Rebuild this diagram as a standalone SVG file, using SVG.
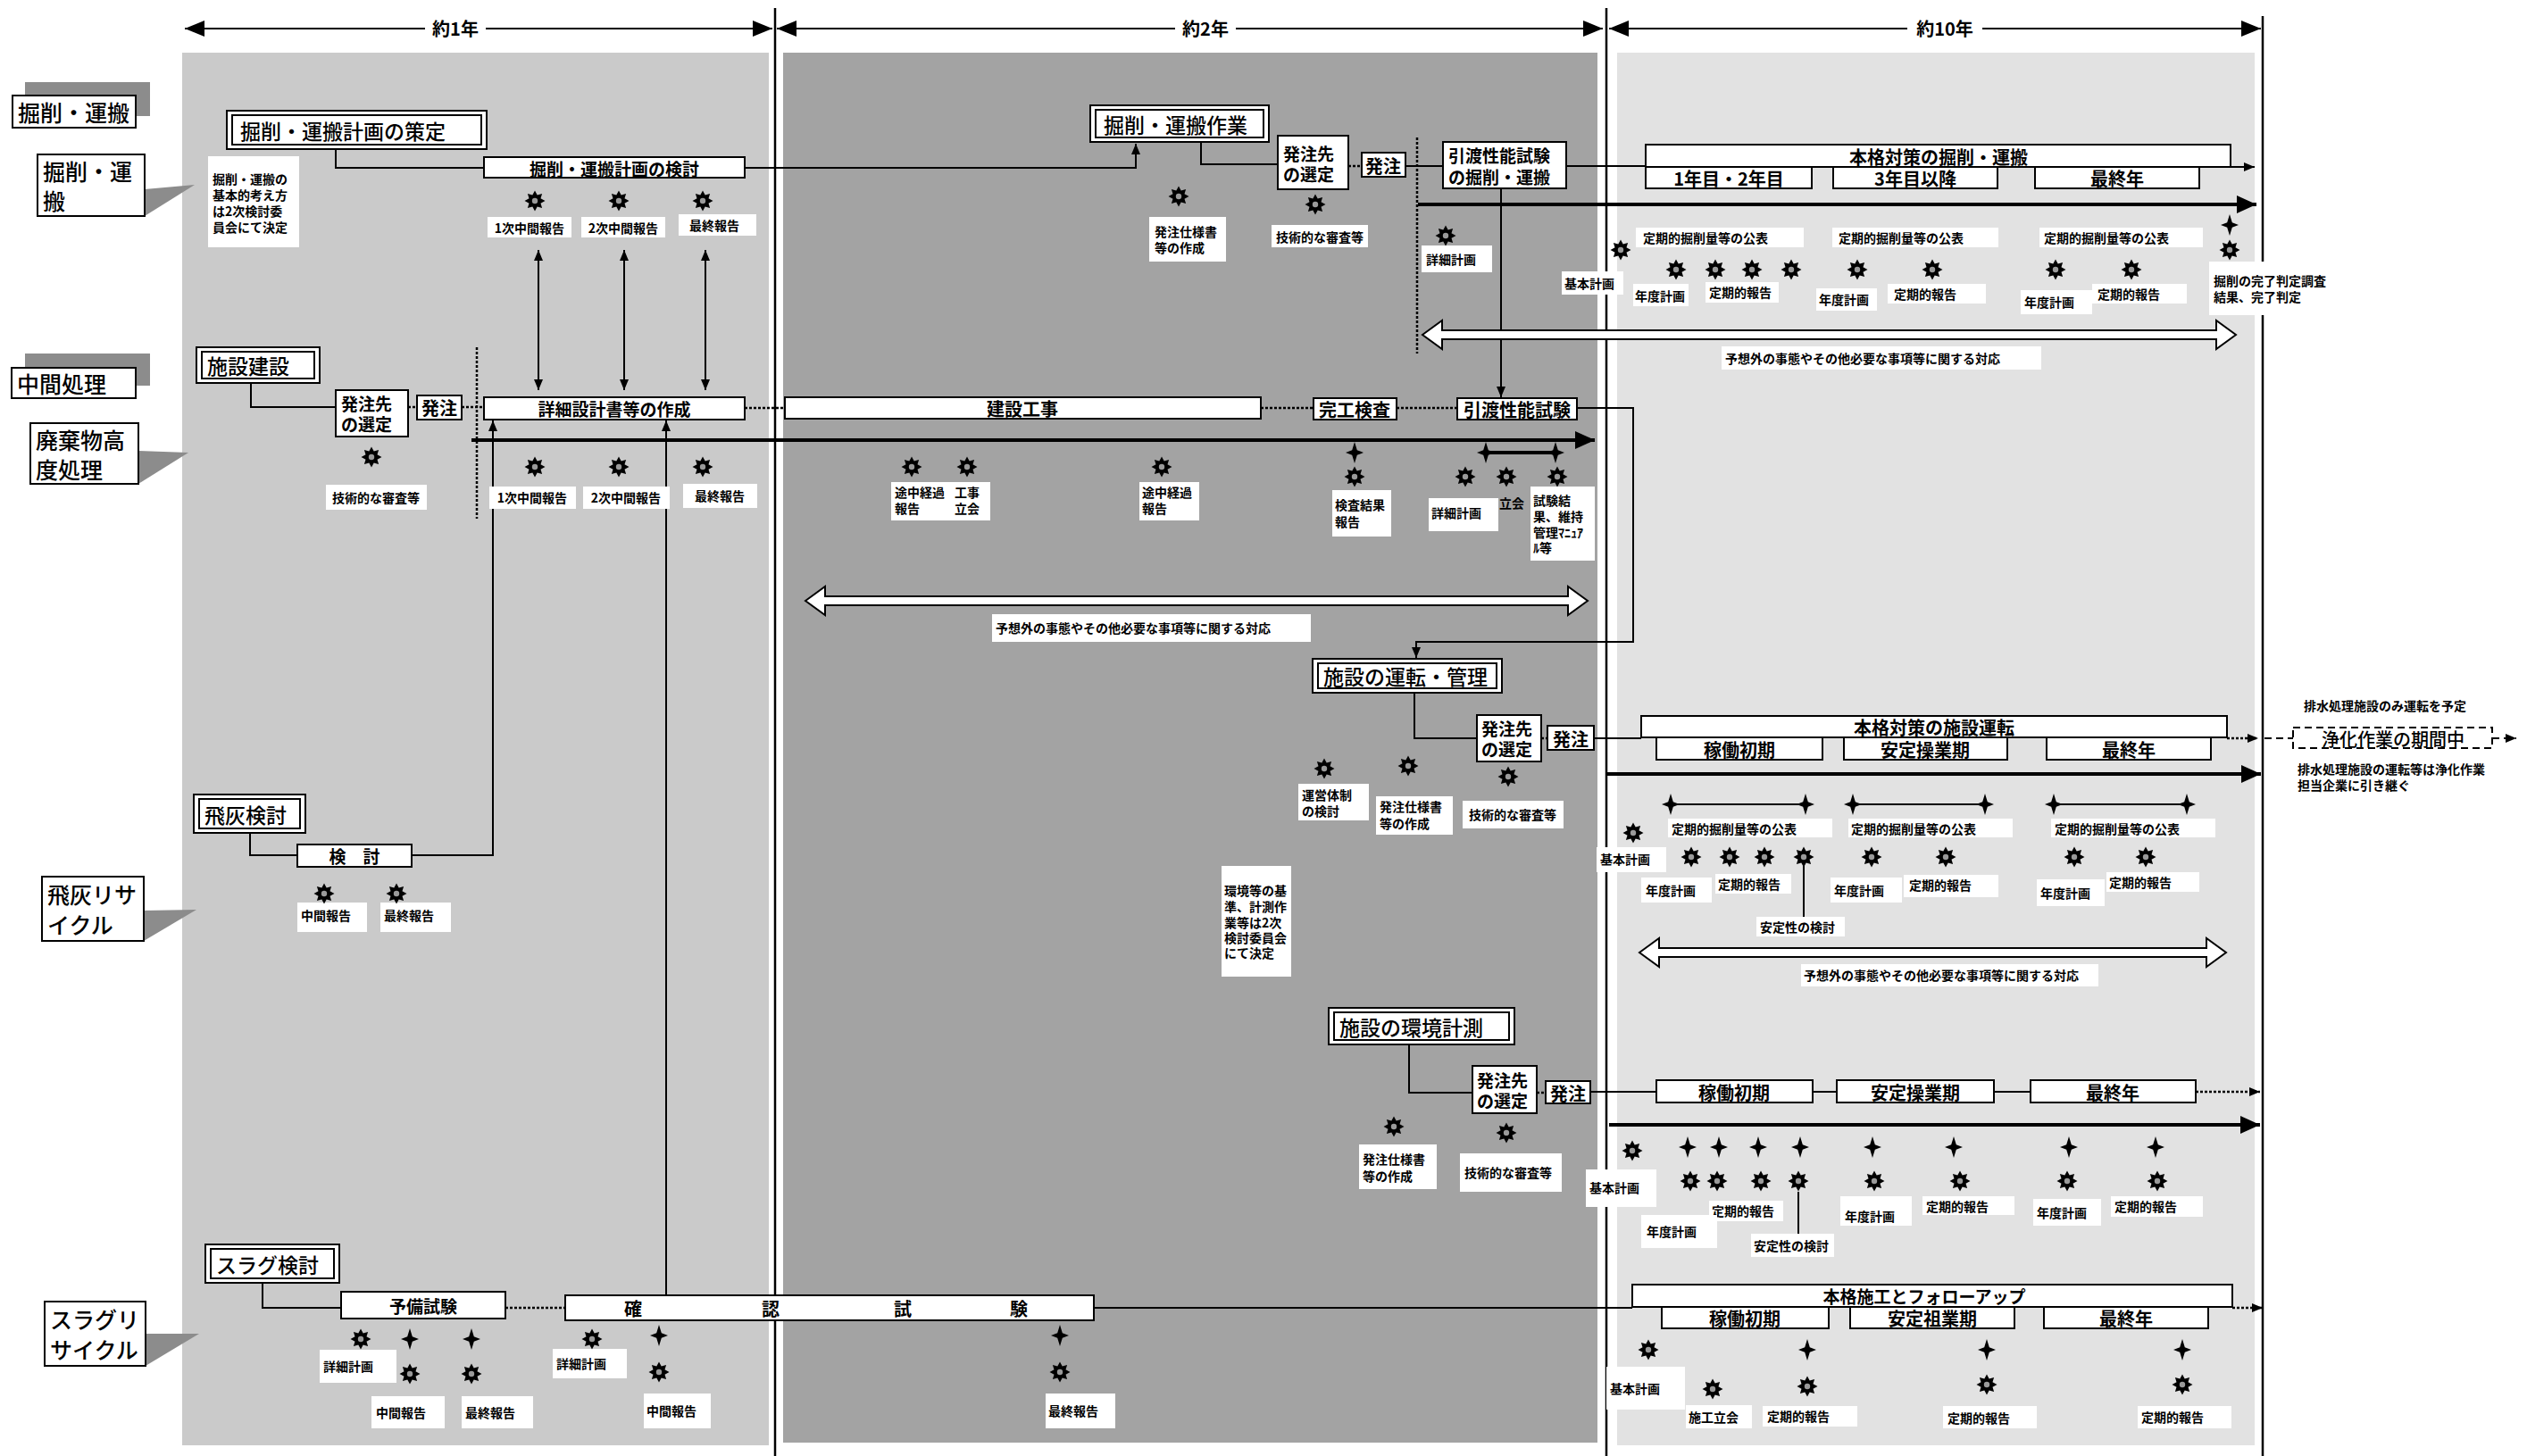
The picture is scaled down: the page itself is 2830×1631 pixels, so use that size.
<svg xmlns="http://www.w3.org/2000/svg" width="2830" height="1631" viewBox="0 0 2830 1631">
<defs>
<style>
.b{fill:#fff;stroke:#000;stroke-width:2}
.w{fill:#fff}
.l{fill:none;stroke:#000;stroke-width:2}
.d{fill:none;stroke:#000;stroke-width:2.5;stroke-dasharray:3 2}
.th{fill:none;stroke:#000;stroke-width:4}
.da{fill:none;stroke:#000;stroke-width:2;stroke-dasharray:8 5}
.ha{fill:#fff;stroke:#000;stroke-width:2}
.sh{fill:#8c8c8c}
.t{font-family:"Noto Sans CJK JP","Noto Sans CJK SC",sans-serif;font-weight:700;fill:#000;dominant-baseline:central}
.s{font-size:14px}
.m{font-size:19px}
.n{font-size:20px}
.L{font-size:23px;font-weight:500}
.X{font-size:25px;font-weight:500}
.rg{font-weight:500}
.c{text-anchor:middle}
</style>
<marker id="aL" viewBox="0 0 22 18" refX="22" refY="9" markerWidth="22" markerHeight="18" markerUnits="userSpaceOnUse" orient="auto-start-reverse"><path d="M0,0L22,9L0,18z"/></marker>
<marker id="aT" viewBox="0 0 22 20" refX="22" refY="10" markerWidth="22" markerHeight="20" markerUnits="userSpaceOnUse" orient="auto"><path d="M0,0L22,10L0,20z"/></marker>
<marker id="aS" viewBox="0 0 12 10" refX="12" refY="5" markerWidth="12" markerHeight="10" markerUnits="userSpaceOnUse" orient="auto-start-reverse"><path d="M0,0L12,5L0,10z"/></marker>
<g id="st"><polygon points="0,-11.5 2.7,-6.5 8.1,-8.1 6.5,-2.7 11.5,0 6.5,2.7 8.1,8.1 2.7,6.5 0,11.5 -2.7,6.5 -8.1,8.1 -6.5,2.7 -11.5,0 -6.5,-2.7 -8.1,-8.1 -2.7,-6.5" fill="#000"/><circle r="3.2" fill="#9a9a9a"/></g>
<path id="cr" d="M0,-12L2.8,-2.8L10,0L2.8,2.8L0,12L-2.8,2.8L-10,0L-2.8,-2.8Z" fill="#000"/>
</defs>
<rect width="2830" height="1631" fill="#fff"/>
<g id="panels">
<rect x="204" y="59" width="657" height="1560" fill="#cacaca"/>
<rect x="877" y="59" width="912" height="1557" fill="#a3a3a3"/>
<rect x="1811" y="59" width="714" height="1560" fill="#e2e2e2"/>
</g>
<g id="axis">
<line class="l" x1="207" y1="32" x2="865" y2="32" marker-start="url(#aL)" marker-end="url(#aL)"/>
<line class="l" x1="870" y1="32" x2="1795" y2="32" marker-start="url(#aL)" marker-end="url(#aL)"/>
<line class="l" x1="1802" y1="32" x2="2532" y2="32" marker-start="url(#aL)" marker-end="url(#aL)"/>
<rect class="w" x="476" y="16" width="68" height="32"/><text class="t n c" x="510" y="31">約1年</text>
<rect class="w" x="1316" y="16" width="68" height="32"/><text class="t n c" x="1350" y="31">約2年</text>
<rect class="w" x="2136" y="16" width="84" height="32"/><text class="t n c" x="2178" y="31">約10年</text>
<line x1="868" y1="9" x2="868" y2="1631" stroke="#000" stroke-width="2.5"/>
<line x1="1799" y1="9" x2="1799" y2="1631" stroke="#000" stroke-width="2.5"/>
<line x1="2534" y1="18" x2="2534" y2="1631" stroke="#000" stroke-width="2.5"/>
</g>
<g id="lane-labels">
<g id="lbl1"><rect class="sh" x="28" y="92" width="140" height="38"/><rect class="b" x="14" y="107" width="138" height="36"/><text class="t X" x="20" y="125">掘削・運搬</text></g>
<g id="lbl2"><polygon class="sh" points="162,212 218,207 162,242"/><rect class="b" x="42" y="173" width="120" height="69"/><text class="t X" x="48" y="191">掘削・運</text><text class="t X" x="48" y="224">搬</text></g>
<g id="lbl3"><rect class="sh" x="28" y="396" width="140" height="36"/><rect class="b" x="13" y="412" width="139" height="34"/><text class="t X" x="19" y="429">中間処理</text></g>
<g id="lbl4"><polygon class="sh" points="155,505 211,507 155,542"/><rect class="b" x="34" y="474" width="121" height="68"/><text class="t X" x="40" y="492">廃棄物高</text><text class="t X" x="40" y="525">度処理</text></g>
<g id="lbl5"><polygon class="sh" points="161,1020 220,1019 161,1054"/><rect class="b" x="47" y="982" width="114" height="72"/><text class="t X" x="53" y="1001">飛灰リサ</text><text class="t X" x="53" y="1035">イクル</text></g>
<g id="lbl6"><polygon class="sh" points="163,1494 223,1494 163,1530"/><rect class="b" x="50" y="1458" width="113" height="72"/><text class="t X" x="56" y="1477">スラグリ</text><text class="t X" x="56" y="1511">サイクル</text></g>
</g>
<g id="connectors">
<path class="l" d="M376,167V188H542"/>
<path class="l" d="M834,188H1272V161" marker-end="url(#aS)"/>
<path class="l" d="M1345,159V184H1431"/>
<path class="d" d="M1510,186H1525"/>
<path class="l" d="M1574,186H1616"/>
<path class="d" d="M1587,154V396"/>
<path class="l" d="M1754,186H1843"/>
<path class="l" d="M1681,211V445" marker-end="url(#aS)"/>
<path class="th" d="M1588,229H2527" marker-end="url(#aT)"/>
<path class="l" d="M2498,187H2525" marker-end="url(#aS)"/>
<polygon class="ha" points="1593,375 1615,359 1615,370 2482,370 2482,359 2504,375 2482,391 2482,380 1615,380 1615,391"/>
<line class="l" stroke-width="1.5" x1="603" y1="280" x2="603" y2="437" marker-start="url(#aS)" marker-end="url(#aS)"/>
<line class="l" stroke-width="1.5" x1="699" y1="280" x2="699" y2="437" marker-start="url(#aS)" marker-end="url(#aS)"/>
<line class="l" stroke-width="1.5" x1="790" y1="280" x2="790" y2="437" marker-start="url(#aS)" marker-end="url(#aS)"/>
<path class="l" d="M281,429V456H376"/>
<path class="d" d="M457,456H467"/>
<path class="d" d="M517,456H542"/>
<path class="d" d="M534,389V581"/>
<path class="th" d="M528,493H1786" marker-end="url(#aT)"/>
<path class="d" d="M834,457H879"/>
<path class="d" d="M1412,457H1471"/>
<path class="d" d="M1564,457H1632"/>
<path class="l" d="M1766,457H1829V719H1586V737" marker-end="url(#aS)"/>
<path class="th" d="M1664,507H1742"/>
<polygon class="ha" points="902,673 924,657 924,668 1756,668 1756,657 1778,673 1756,689 1756,678 924,678 924,689"/>
<path class="l" d="M1584,776V827H1654"/>
<path class="d" d="M1726,827H1733"/>
<path class="l" d="M1785,827H1838"/>
<path class="d" d="M2494,827H2529" marker-end="url(#aS)"/>
<path class="da" d="M2536,827H2568"/>
<path class="da" d="M2791,827H2818" marker-end="url(#aS)"/>
<path class="th" d="M1799,867H2532" marker-end="url(#aT)"/>
<path class="l" stroke-width="3" d="M1871,901H2022M2075,901H2223M2300,901H2449"/>
<path class="l" d="M2020,970V1027"/>
<polygon class="ha" points="1836,1067 1858,1051 1858,1062 2471,1062 2471,1051 2493,1067 2471,1083 2471,1072 1858,1072 1858,1083"/>
<path class="l" d="M280,933V958H333"/>
<path class="l" d="M461,958H552V471" marker-end="url(#aS)"/>
<path class="l" d="M1578,1170V1224H1649"/>
<path class="d" d="M1721,1224H1731"/>
<path class="l" d="M1781,1223H1855"/>
<path class="l" d="M2030,1223H2057M2233,1223H2274"/>
<path class="d" d="M2459,1223H2531" marker-end="url(#aS)"/>
<path class="th" d="M1802,1260H2531" marker-end="url(#aT)"/>
<path class="l" d="M2014,1335V1382"/>
<path class="l" d="M294,1437V1465H382"/>
<path class="d" d="M566,1465H633"/>
<path class="l" d="M1225,1465H1828"/>
<path class="d" d="M2500,1465H2534" marker-end="url(#aS)"/>
<path class="l" d="M746,1451V471" marker-end="url(#aS)"/>
</g>
<g id="nodes">
<g id="n-plan"><rect class="b" x="254" y="124" width="291" height="43"/><rect class="b" x="260" y="129" width="279" height="33"/><text class="t L" x="269" y="146">掘削・運搬計画の策定</text></g>
<g id="n-note1"><rect class="w" x="233" y="175" width="102" height="102"/><text class="t s" x="238" y="200">掘削・運搬の</text><text class="t s" x="238" y="218">基本的考え方</text><text class="t s" x="238" y="236">は2次検討委</text><text class="t s" x="238" y="254">員会にて決定</text></g>
<g id="n-study"><rect class="b" x="542" y="176" width="292" height="23"/><text class="t m c" x="688" y="188">掘削・運搬計画の検討</text></g>
<g id="n-r1"><rect class="w" x="546" y="243" width="94" height="23"/><text class="t s c" x="593" y="255">1次中間報告</text></g>
<g id="n-r2"><rect class="w" x="651" y="243" width="94" height="23"/><text class="t s c" x="698" y="255">2次中間報告</text></g>
<g id="n-r3"><rect class="w" x="760" y="240" width="87" height="24"/><text class="t s c" x="800" y="252">最終報告</text></g>
<g id="n-work"><rect class="b" x="1221" y="118" width="200" height="41"/><rect class="b" x="1227" y="123" width="188" height="31"/><text class="t L" x="1236" y="139">掘削・運搬作業</text></g>
<g id="n-spec1"><rect class="w" x="1287" y="243" width="86" height="50"/><text class="t s" x="1293" y="259">発注仕様書</text><text class="t s" x="1293" y="277">等の作成</text></g>
<g id="n-sel1"><rect class="b" x="1431" y="152" width="79" height="60"/><text class="t m" x="1437" y="171">発注先</text><text class="t m" x="1437" y="194">の選定</text></g>
<g id="n-rev1"><rect class="w" x="1424" y="252" width="108" height="25"/><text class="t s c" x="1478" y="265">技術的な審査等</text></g>
<g id="n-ord1"><rect class="b" x="1525" y="171" width="49" height="27"/><text class="t n c" x="1549" y="185">発注</text></g>
<g id="n-hand1"><rect class="b" x="1616" y="159" width="138" height="52"/><text class="t m" x="1622" y="173">引渡性能試験</text><text class="t m" x="1622" y="197">の掘削・運搬</text></g>
<g id="n-det1"><rect class="w" x="1592" y="275" width="79" height="30"/><text class="t s" x="1597" y="290">詳細計画</text></g>
<g id="n-main1"><rect class="b" x="1843" y="162" width="655" height="25"/><text class="t n c" x="2171" y="175">本格対策の掘削・運搬</text></g>
<g id="n-y12"><rect class="b" x="1843" y="187" width="186" height="24"/><text class="t n c" x="1936" y="199">1年目・2年目</text></g>
<g id="n-y3"><rect class="b" x="2053" y="187" width="184" height="24"/><text class="t n c" x="2145" y="199">3年目以降</text></g>
<g id="n-yl1"><rect class="b" x="2279" y="187" width="184" height="24"/><text class="t n c" x="2371" y="199">最終年</text></g>
<g id="n-pub1"><rect class="w" x="1832" y="255" width="188" height="22"/><text class="t s" x="1840" y="266">定期的掘削量等の公表</text></g>
<g id="n-pub2"><rect class="w" x="2052" y="255" width="186" height="22"/><text class="t s" x="2059" y="266">定期的掘削量等の公表</text></g>
<g id="n-pub3"><rect class="w" x="2284" y="255" width="183" height="22"/><text class="t s" x="2289" y="266">定期的掘削量等の公表</text></g>
<g id="n-basic1"><rect class="w" x="1749" y="304" width="69" height="26"/><text class="t s" x="1752" y="317">基本計画</text></g>
<g id="n-ap1"><rect class="w" x="1829" y="318" width="62" height="25"/><text class="t s" x="1831" y="331">年度計画</text></g>
<g id="n-pr1"><rect class="w" x="1910" y="316" width="82" height="23"/><text class="t s" x="1914" y="327">定期的報告</text></g>
<g id="n-ap2"><rect class="w" x="2034" y="323" width="68" height="25"/><text class="t s" x="2037" y="335">年度計画</text></g>
<g id="n-pr2"><rect class="w" x="2114" y="318" width="110" height="22"/><text class="t s" x="2121" y="329">定期的報告</text></g>
<g id="n-ap3"><rect class="w" x="2263" y="325" width="80" height="27"/><text class="t s" x="2267" y="338">年度計画</text></g>
<g id="n-pr3"><rect class="w" x="2343" y="318" width="106" height="22"/><text class="t s" x="2349" y="329">定期的報告</text></g>
<g id="n-done"><rect class="w" x="2474" y="293" width="136" height="60"/><text class="t s" x="2479" y="314">掘削の完了判定調査</text><text class="t s" x="2479" y="332">結果、完了判定</text></g>
<g id="n-unx1"><rect class="w" x="1928" y="388" width="358" height="26"/><text class="t s" x="1932" y="401">予想外の事態やその他必要な事項等に関する対応</text></g>

<g id="n-build"><rect class="b" x="220" y="389" width="138" height="40"/><rect class="b" x="226" y="394" width="126" height="30"/><text class="t L" x="232" y="409">施設建設</text></g>
<g id="n-sel2"><rect class="b" x="376" y="437" width="81" height="52"/><text class="t m" x="382" y="451">発注先</text><text class="t m" x="382" y="474">の選定</text></g>
<g id="n-ord2"><rect class="b" x="467" y="443" width="50" height="27"/><text class="t n c" x="492" y="456">発注</text></g>
<g id="n-rev2"><rect class="w" x="365" y="543" width="113" height="28"/><text class="t s c" x="421" y="557">技術的な審査等</text></g>
<g id="n-design"><rect class="b" x="542" y="445" width="292" height="25"/><text class="t m c" x="688" y="457">詳細設計書等の作成</text></g>
<g id="n-r4"><rect class="w" x="548" y="545" width="97" height="25"/><text class="t s c" x="596" y="557">1次中間報告</text></g>
<g id="n-r5"><rect class="w" x="653" y="545" width="97" height="25"/><text class="t s c" x="701" y="557">2次中間報告</text></g>
<g id="n-r6"><rect class="w" x="765" y="542" width="83" height="27"/><text class="t s c" x="806" y="555">最終報告</text></g>
<g id="n-cons"><rect class="b" x="879" y="445" width="533" height="24"/><text class="t n c" x="1145" y="457">建設工事</text></g>
<g id="n-prog1"><rect class="w" x="998" y="540" width="69" height="43"/><text class="t s" x="1002" y="551">途中経過</text><text class="t s" x="1002" y="569">報告</text></g>
<g id="n-wit1"><rect class="w" x="1067" y="540" width="42" height="43"/><text class="t s" x="1069" y="551">工事</text><text class="t s" x="1069" y="569">立会</text></g>
<g id="n-prog2"><rect class="w" x="1276" y="540" width="67" height="43"/><text class="t s" x="1279" y="551">途中経過</text><text class="t s" x="1279" y="569">報告</text></g>
<g id="n-insp"><rect class="b" x="1471" y="446" width="93" height="24"/><text class="t n c" x="1517" y="458">完工検査</text></g>
<g id="n-hand2"><rect class="b" x="1632" y="446" width="134" height="24"/><text class="t n c" x="1699" y="458">引渡性能試験</text></g>
<g id="n-insr"><rect class="w" x="1492" y="549" width="66" height="52"/><text class="t s" x="1495" y="565">検査結果</text><text class="t s" x="1495" y="584">報告</text></g>
<g id="n-det2"><rect class="w" x="1600" y="558" width="78" height="37"/><text class="t s" x="1603" y="574">詳細計画</text></g>
<g id="n-wit2"><text class="t s" x="1679" y="563">立会</text></g>
<g id="n-res"><rect class="w" x="1714" y="545" width="72" height="83"/><text class="t s" x="1717" y="560">試験結</text><text class="t s" x="1717" y="578">果、維持</text><text class="t s" x="1717" y="596">管理ﾏﾆｭｱ</text><text class="t s" x="1717" y="613">ﾙ等</text></g>
<g id="n-unx2"><rect class="w" x="1111" y="688" width="357" height="31"/><text class="t s" x="1115" y="703">予想外の事態やその他必要な事項等に関する対応</text></g>
<g id="n-oper"><rect class="b" x="1470" y="738" width="212" height="38"/><rect class="b" x="1476" y="743" width="200" height="28"/><text class="t L" x="1482" y="757">施設の運転・管理</text></g>
<g id="n-sel3"><rect class="b" x="1654" y="801" width="72" height="52"/><text class="t m" x="1659" y="815">発注先</text><text class="t m" x="1659" y="838">の選定</text></g>
<g id="n-ord3"><rect class="b" x="1733" y="813" width="52" height="27"/><text class="t n c" x="1759" y="827">発注</text></g>
<g id="n-org"><rect class="w" x="1454" y="878" width="79" height="41"/><text class="t s" x="1458" y="890">運営体制</text><text class="t s" x="1458" y="908">の検討</text></g>
<g id="n-spec2"><rect class="w" x="1541" y="892" width="86" height="43"/><text class="t s" x="1545" y="903">発注仕様書</text><text class="t s" x="1545" y="922">等の作成</text></g>
<g id="n-rev3"><rect class="w" x="1638" y="897" width="113" height="31"/><text class="t s c" x="1694" y="912">技術的な審査等</text></g>
<g id="n-note2"><rect class="w" x="1368" y="970" width="78" height="124"/><text class="t s" x="1371" y="997">環境等の基</text><text class="t s" x="1371" y="1015">準、計測作</text><text class="t s" x="1371" y="1033">業等は2次</text><text class="t s" x="1371" y="1050">検討委員会</text><text class="t s" x="1371" y="1067">にて決定</text></g>
<g id="n-main2"><rect class="b" x="1838" y="802" width="656" height="24"/><text class="t n c" x="2166" y="814">本格対策の施設運転</text></g>
<g id="n-e1"><rect class="b" x="1855" y="826" width="186" height="25"/><text class="t n c" x="1948" y="839">稼働初期</text></g>
<g id="n-s1"><rect class="b" x="2065" y="826" width="183" height="25"/><text class="t n c" x="2156" y="839">安定操業期</text></g>
<g id="n-l1"><rect class="b" x="2292" y="826" width="184" height="25"/><text class="t n c" x="2384" y="839">最終年</text></g>
<g id="n-clean"><rect x="2568" y="815" width="223" height="23" fill="#fff" class="da"/><text class="t n c rg" x="2680" y="827">浄化作業の期間中</text></g>
<g id="n-drain1"><text class="t s" x="2580" y="790">排水処理施設のみ運転を予定</text></g>
<g id="n-drain2"><text class="t s" x="2573" y="861">排水処理施設の運転等は浄化作業</text><text class="t s" x="2573" y="879">担当企業に引き継ぐ</text></g>
<g id="n-basic2"><rect class="w" x="1788" y="949" width="78" height="28"/><text class="t s" x="1792" y="962">基本計画</text></g>
<g id="n-pub4"><rect class="w" x="1868" y="917" width="184" height="21"/><text class="t s" x="1872" y="928">定期的掘削量等の公表</text></g>
<g id="n-pub5"><rect class="w" x="2070" y="917" width="184" height="21"/><text class="t s" x="2073" y="928">定期的掘削量等の公表</text></g>
<g id="n-pub6"><rect class="w" x="2297" y="917" width="184" height="21"/><text class="t s" x="2301" y="928">定期的掘削量等の公表</text></g>
<g id="n-ap4"><rect class="w" x="1838" y="983" width="79" height="28"/><text class="t s" x="1843" y="997">年度計画</text></g>
<g id="n-pr4"><rect class="w" x="1921" y="979" width="85" height="22"/><text class="t s" x="1924" y="990">定期的報告</text></g>
<g id="n-ap5"><rect class="w" x="2050" y="983" width="80" height="28"/><text class="t s" x="2054" y="997">年度計画</text></g>
<g id="n-pr5"><rect class="w" x="2132" y="980" width="106" height="25"/><text class="t s" x="2138" y="991">定期的報告</text></g>
<g id="n-ap6"><rect class="w" x="2281" y="985" width="76" height="30"/><text class="t s" x="2285" y="1000">年度計画</text></g>
<g id="n-pr6"><rect class="w" x="2359" y="977" width="104" height="22"/><text class="t s" x="2362" y="988">定期的報告</text></g>
<g id="n-stab1"><rect class="w" x="1967" y="1027" width="99" height="22"/><text class="t s" x="1971" y="1038">安定性の検討</text></g>
<g id="n-unx3"><rect class="w" x="2017" y="1080" width="333" height="25"/><text class="t s" x="2020" y="1092">予想外の事態やその他必要な事項等に関する対応</text></g>

<g id="n-ash"><rect class="b" x="217" y="890" width="125" height="43"/><rect class="b" x="223" y="895" width="113" height="33"/><text class="t L" x="229" y="912">飛灰検討</text></g>
<g id="n-ashstudy"><rect class="b" x="333" y="946" width="128" height="25"/><text class="t m c" x="397" y="958">検　討</text></g>
<g id="n-r7"><rect class="w" x="333" y="1011" width="78" height="33"/><text class="t s" x="337" y="1025">中間報告</text></g>
<g id="n-r8"><rect class="w" x="426" y="1011" width="79" height="33"/><text class="t s" x="430" y="1025">最終報告</text></g>

<g id="n-env"><rect class="b" x="1488" y="1129" width="208" height="41"/><rect class="b" x="1494" y="1134" width="196" height="31"/><text class="t L" x="1500" y="1150">施設の環境計測</text></g>
<g id="n-sel4"><rect class="b" x="1649" y="1194" width="72" height="53"/><text class="t m" x="1654" y="1209">発注先</text><text class="t m" x="1654" y="1232">の選定</text></g>
<g id="n-ord4"><rect class="b" x="1731" y="1211" width="50" height="25"/><text class="t n c" x="1756" y="1224">発注</text></g>
<g id="n-spec3"><rect class="w" x="1522" y="1282" width="87" height="50"/><text class="t s" x="1526" y="1298">発注仕様書</text><text class="t s" x="1526" y="1317">等の作成</text></g>
<g id="n-rev4"><rect class="w" x="1635" y="1292" width="114" height="43"/><text class="t s" x="1640" y="1313">技術的な審査等</text></g>
<g id="n-e2"><rect class="b" x="1855" y="1210" width="175" height="25"/><text class="t n c" x="1942" y="1223">稼働初期</text></g>
<g id="n-s2"><rect class="b" x="2057" y="1210" width="176" height="25"/><text class="t n c" x="2145" y="1223">安定操業期</text></g>
<g id="n-l2"><rect class="b" x="2274" y="1210" width="185" height="25"/><text class="t n c" x="2366" y="1223">最終年</text></g>
<g id="n-basic3"><rect class="w" x="1776" y="1310" width="79" height="42"/><text class="t s" x="1780" y="1330">基本計画</text></g>
<g id="n-pr7"><rect class="w" x="1914" y="1345" width="83" height="23"/><text class="t s" x="1917" y="1356">定期的報告</text></g>
<g id="n-ap7"><rect class="w" x="1838" y="1361" width="85" height="37"/><text class="t s" x="1844" y="1379">年度計画</text></g>
<g id="n-stab2"><rect class="w" x="1961" y="1382" width="93" height="26"/><text class="t s" x="1964" y="1395">安定性の検討</text></g>
<g id="n-ap8"><rect class="w" x="2061" y="1340" width="80" height="33"/><text class="t s" x="2066" y="1362">年度計画</text></g>
<g id="n-pr8"><rect class="w" x="2153" y="1340" width="103" height="21"/><text class="t s" x="2157" y="1351">定期的報告</text></g>
<g id="n-ap9"><rect class="w" x="2277" y="1343" width="76" height="30"/><text class="t s" x="2281" y="1358">年度計画</text></g>
<g id="n-pr9"><rect class="w" x="2364" y="1340" width="103" height="23"/><text class="t s" x="2368" y="1351">定期的報告</text></g>

<g id="n-slag"><rect class="b" x="230" y="1394" width="150" height="43"/><rect class="b" x="236" y="1399" width="138" height="33"/><text class="t L" x="242" y="1416">スラグ検討</text></g>
<g id="n-pre"><rect class="b" x="382" y="1447" width="184" height="30"/><text class="t m c" x="474" y="1462">予備試験</text></g>
<g id="n-conf"><rect class="b" x="633" y="1451" width="592" height="28"/><text class="t n c" x="709" y="1465">確</text><text class="t n c" x="863" y="1465">認</text><text class="t n c" x="1011" y="1465">試</text><text class="t n c" x="1141" y="1465">験</text></g>
<g id="n-det3"><rect class="w" x="358" y="1512" width="86" height="37"/><text class="t s" x="362" y="1530">詳細計画</text></g>
<g id="n-r9"><rect class="w" x="416" y="1564" width="82" height="36"/><text class="t s" x="421" y="1582">中間報告</text></g>
<g id="n-r10"><rect class="w" x="517" y="1564" width="80" height="36"/><text class="t s" x="521" y="1582">最終報告</text></g>
<g id="n-det4"><rect class="w" x="619" y="1511" width="83" height="33"/><text class="t s" x="623" y="1527">詳細計画</text></g>
<g id="n-r11"><rect class="w" x="721" y="1561" width="75" height="39"/><text class="t s" x="724" y="1580">中間報告</text></g>
<g id="n-r12"><rect class="w" x="1171" y="1561" width="78" height="39"/><text class="t s" x="1174" y="1580">最終報告</text></g>
<g id="n-main3"><rect class="b" x="1828" y="1439" width="672" height="25"/><text class="t m c" x="2155" y="1451">本格施工とフォローアップ</text></g>
<g id="n-e3"><rect class="b" x="1861" y="1464" width="187" height="24"/><text class="t n c" x="1954" y="1476">稼働初期</text></g>
<g id="n-s3"><rect class="b" x="2072" y="1464" width="184" height="24"/><text class="t n c" x="2164" y="1476">安定祖業期</text></g>
<g id="n-l3"><rect class="b" x="2289" y="1464" width="184" height="24"/><text class="t n c" x="2381" y="1476">最終年</text></g>
<g id="n-basic4"><rect class="w" x="1799" y="1531" width="88" height="48"/><text class="t s" x="1803" y="1555">基本計画</text></g>
<g id="n-wit3"><rect class="w" x="1888" y="1574" width="74" height="26"/><text class="t s" x="1891" y="1587">施工立会</text></g>
<g id="n-pr10"><rect class="w" x="1974" y="1575" width="106" height="23"/><text class="t s" x="1979" y="1586">定期的報告</text></g>
<g id="n-pr11"><rect class="w" x="2176" y="1575" width="105" height="25"/><text class="t s" x="2181" y="1588">定期的報告</text></g>
<g id="n-pr12"><rect class="w" x="2394" y="1575" width="105" height="25"/><text class="t s" x="2398" y="1587">定期的報告</text></g>
</g>
<g id="marks">
<use href="#st" x="599" y="225"/><use href="#st" x="693" y="225"/><use href="#st" x="787" y="225"/><use href="#st" x="1320" y="220"/><use href="#st" x="1473" y="229"/><use href="#st" x="1619" y="264"/><use href="#st" x="1815" y="280"/>
<use href="#st" x="1877" y="302"/><use href="#st" x="1921" y="302"/><use href="#st" x="1962" y="302"/><use href="#st" x="2006" y="302"/><use href="#st" x="2080" y="302"/><use href="#st" x="2164" y="302"/><use href="#st" x="2302" y="302"/><use href="#st" x="2387" y="302"/><use href="#st" x="2497" y="280"/>
<use href="#cr" x="2497" y="252"/>
<use href="#st" x="416" y="512"/><use href="#st" x="599" y="523"/><use href="#st" x="693" y="523"/><use href="#st" x="787" y="523"/><use href="#st" x="1021" y="523"/><use href="#st" x="1083" y="523"/><use href="#st" x="1301" y="523"/><use href="#st" x="1517" y="534"/><use href="#st" x="1641" y="534"/><use href="#st" x="1687" y="534"/><use href="#st" x="1744" y="534"/>
<use href="#cr" x="1517" y="507"/><use href="#cr" x="1664" y="507"/><use href="#cr" x="1742" y="507"/>
<use href="#st" x="1483" y="861"/><use href="#st" x="1577" y="858"/><use href="#st" x="1689" y="870"/><use href="#st" x="1829" y="933"/>
<use href="#st" x="1894" y="960"/><use href="#st" x="1937" y="960"/><use href="#st" x="1976" y="960"/><use href="#st" x="2020" y="960"/><use href="#st" x="2096" y="960"/><use href="#st" x="2179" y="960"/><use href="#st" x="2323" y="960"/><use href="#st" x="2403" y="960"/>
<use href="#cr" x="1871" y="901"/><use href="#cr" x="2022" y="901"/><use href="#cr" x="2075" y="901"/><use href="#cr" x="2223" y="901"/><use href="#cr" x="2300" y="901"/><use href="#cr" x="2449" y="901"/>
<use href="#st" x="363" y="1001"/><use href="#st" x="444" y="1001"/>
<use href="#st" x="1561" y="1262"/><use href="#st" x="1687" y="1269"/><use href="#st" x="1828" y="1289"/>
<use href="#st" x="1893" y="1323"/><use href="#st" x="1923" y="1323"/><use href="#st" x="1972" y="1323"/><use href="#st" x="2014" y="1323"/><use href="#st" x="2099" y="1323"/><use href="#st" x="2195" y="1323"/><use href="#st" x="2315" y="1323"/><use href="#st" x="2416" y="1323"/>
<use href="#cr" x="1890" y="1285"/><use href="#cr" x="1925" y="1285"/><use href="#cr" x="1969" y="1285"/><use href="#cr" x="2016" y="1285"/><use href="#cr" x="2097" y="1285"/><use href="#cr" x="2188" y="1285"/><use href="#cr" x="2317" y="1285"/><use href="#cr" x="2414" y="1285"/>
<use href="#st" x="404" y="1500"/><use href="#st" x="459" y="1539"/><use href="#st" x="528" y="1539"/><use href="#st" x="663" y="1500"/><use href="#st" x="738" y="1537"/><use href="#st" x="1187" y="1537"/>
<use href="#cr" x="459" y="1500"/><use href="#cr" x="528" y="1500"/><use href="#cr" x="738" y="1496"/><use href="#cr" x="1187" y="1496"/>
<use href="#st" x="1846" y="1512"/><use href="#st" x="1918" y="1556"/><use href="#st" x="2024" y="1553"/><use href="#st" x="2225" y="1551"/><use href="#st" x="2444" y="1551"/>
<use href="#cr" x="2024" y="1512"/><use href="#cr" x="2225" y="1512"/><use href="#cr" x="2444" y="1512"/>
</g>
</svg>
